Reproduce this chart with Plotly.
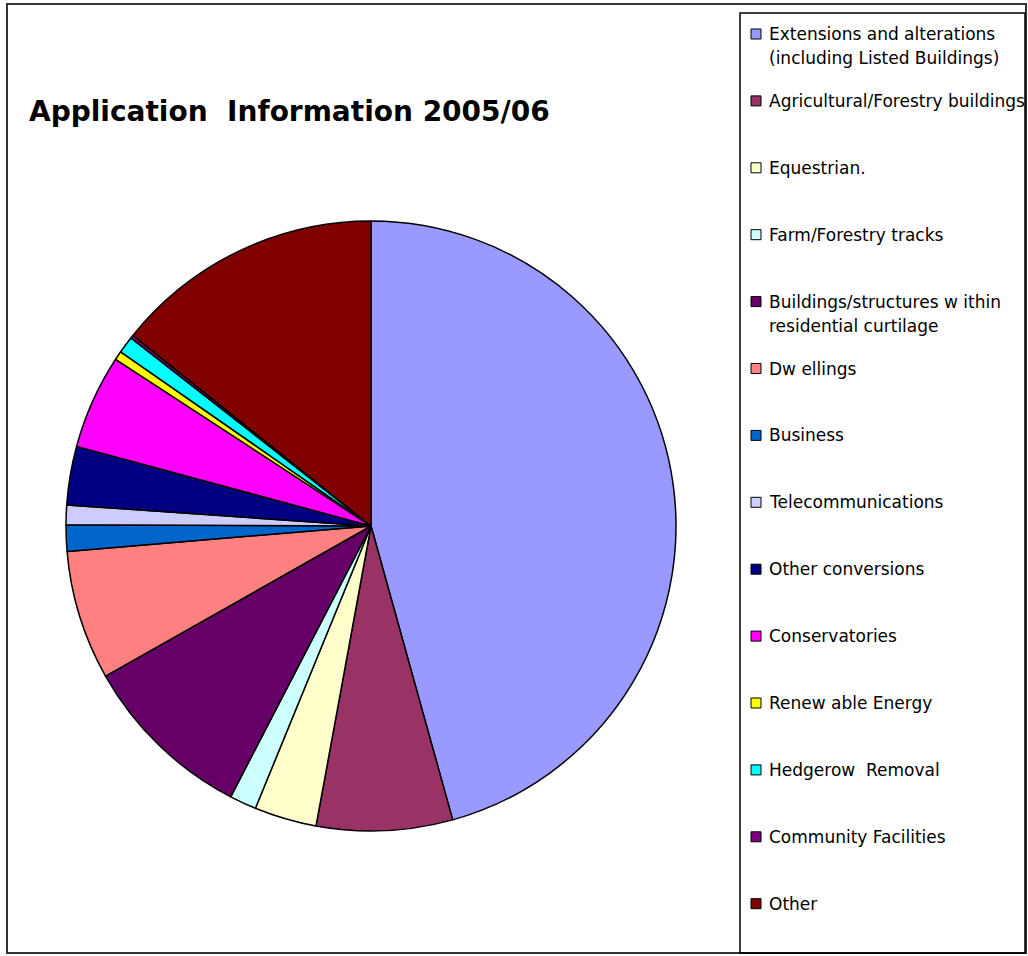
import plotly.graph_objects as go

categories = [
    "Extensions and alterations (including Listed Buildings)",
    "Agricultural/Forestry buildings",
    "Equestrian.",
    "Farm/Forestry tracks",
    "Buildings/structures within residential curtilage",
    "Dwellings",
    "Business",
    "Telecommunications",
    "Other conversions",
    "Conservatories",
    "Renewable Energy",
    "Hedgerow Removal",
    "Community Facilities",
    "Other",
]
values = [45.67, 7.2, 3.3, 1.42, 9.2, 6.86, 1.39, 1.04, 3.1, 5.0, 0.47, 0.9, 0.17, 14.25]
legend_lines = [
    ["Extensions and alterations", "(including Listed Buildings)"],
    ["Agricultural/Forestry buildings"],
    ["Equestrian."],
    ["Farm/Forestry tracks"],
    ["Buildings/structures w ithin", "residential curtilage"],
    ["Dw ellings"],
    ["Business"],
    ["Telecommunications"],
    ["Other conversions"],
    ["Conservatories"],
    ["Renew able Energy"],
    ["Hedgerow  Removal"],
    ["Community Facilities"],
    ["Other"],
]
colors = ["#9999FF", "#993366", "#FFFFCC", "#CCFFFF", "#660066", "#FF8080", "#0066CC",
          "#CCCCFF", "#000080", "#FF00FF", "#FFFF00", "#00FFFF", "#800080", "#800000"]
title_text = "Application  Information 2005/06"

W, H = 1028, 956
cx, cy, r = 371, 526, 305

fig = go.Figure(go.Pie(
    labels=categories, values=values, sort=False, direction="clockwise", rotation=0,
    marker=dict(colors=colors, line=dict(color="black", width=1.5)),
    textinfo="none", hoverinfo="label+percent", showlegend=False,
    domain=dict(x=[(cx - r) / W, (cx + r) / W], y=[(H - cy - r) / H, (H - cy + r) / H]),
))

def px(x):
    return x / W

def py(y):
    return 1 - y / H

shapes = [
    dict(type="rect", xref="paper", yref="paper", x0=px(7), x1=px(1026), y0=py(953), y1=py(4),
         line=dict(color="#333333", width=2), fillcolor="rgba(0,0,0,0)"),
    dict(type="rect", xref="paper", yref="paper", x0=px(740), x1=px(1025), y0=py(953), y1=py(13),
         line=dict(color="black", width=1.5), fillcolor="rgba(0,0,0,0)"),
]
annotations = [
    dict(text="<b>" + title_text + "</b>", x=px(27), y=py(112), xref="paper", yref="paper",
         xanchor="left", yanchor="middle", showarrow=False,
         font=dict(family="DejaVu Sans", size=28, color="black")),
]
for i, lines in enumerate(legend_lines):
    yc = 34 + 66.9 * i
    shapes.append(dict(type="rect", xref="paper", yref="paper",
                       x0=px(751), x1=px(761), y0=py(yc + 5), y1=py(yc - 5),
                       fillcolor=colors[i], line=dict(color="black", width=1)))
    for j, t in enumerate(lines):
        annotations.append(dict(text=t, x=px(767), y=py(yc + 24 * j), xref="paper", yref="paper",
                                xanchor="left", yanchor="middle", showarrow=False,
                                font=dict(family="DejaVu Sans", size=17, color="black")))

fig.update_layout(
    width=W, height=H, margin=dict(l=0, r=0, t=0, b=0),
    paper_bgcolor="white", plot_bgcolor="white",
    shapes=shapes, annotations=annotations,
)
fig.write_html("out.html")
